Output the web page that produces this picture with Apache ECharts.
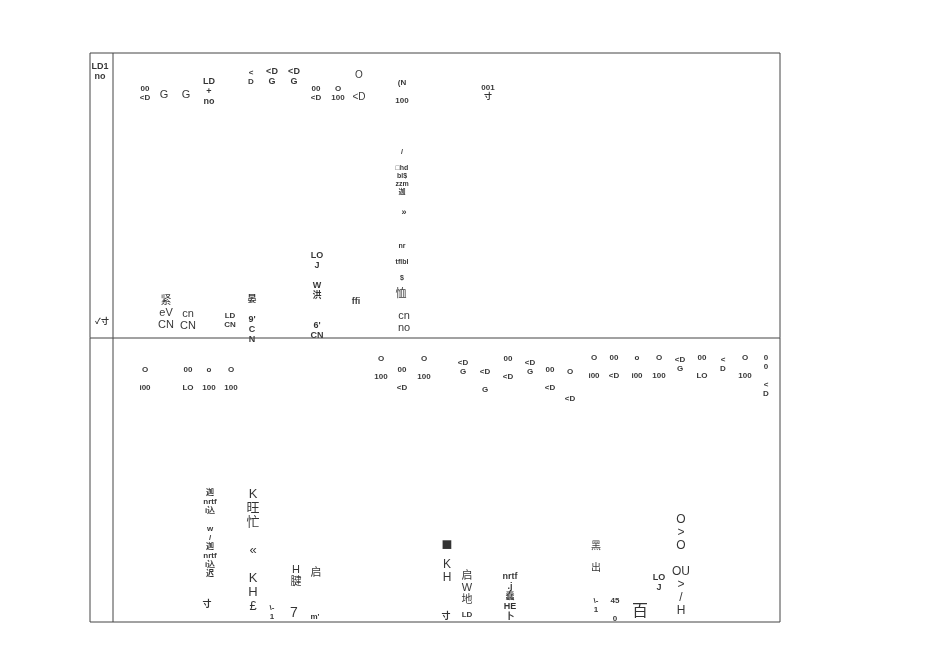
<!DOCTYPE html>
<html><head><meta charset="utf-8">
<script src="https://cdn.jsdelivr.net/npm/echarts@6/dist/echarts.min.js"></script>
<style>html,body{margin:0;background:#fff}#c{width:950px;height:672px}</style>
</head><body><div id="c"></div>
<script>
const texts = ["LD1\nno","00\n<D","G","G","LD\n+\nno","<\nD","<D\nG","<D\nG","00\n<D","O\n100","O\n\n<D","(N\n\n100","001\n寸",
"/\n\n□hd\nbl$\nzzm\n迦","»","nr\n\ntflbl\n\n$","恤","cn\nno","LO\nJ\n\nW\n洪\n\n\n6'\nCN","ffi","紧\neV\nCN","cn\nCN","LD\nCN","晏\n\n9'\nC\nN","✓寸",
"O\n\ni00","00\n\nLO","o\n\n100","O\n\n100","O\n\n100","00\n\n<D","O\n\n100","<D\nG","<D\n\nG","00\n\n<D","<D\nG","00\n\n<D","O\n\n\n<D","O\n\ni00","00\n\n<D","o\n\ni00","O\n\n100","<D\nG","00\n\nLO","<\nD","O\n\n100","0\n0\n\n<\nD",
"迦\nnrtf\ni込\n\nw\n/\n迦\nnrtf\ni込\n迟","寸","K\n旺\n忙\n\n«\n\nK\nH\n£","\\-\n1","H\n腱","7","启","m'","■","K\nH","寸","启\nW\n地","LD","nrtf\n.j\n蠢\nHE\n卜","黑\n\n出","\\-\n1","45\n\n0","百","LO\nJ","O\n>\nO\n\nOU\n>\n/\nH"];
const xs = [100,145,164,186,209,251,272,294,316,338,359,402,488,402,404,402,401,404,317,356,166,188,230,252,102,
145,188,209,231,381,402,424,463,485,508,530,550,570,594,614,637,659,680,702,723,745,766,
210,207,253,272,296,294,316,315,447,447,446,467,467,510,596,596,615,640,659,681];
const ys = [72,93,95,95,92,77,77,77,93,93,86,92,92,172,213,262,294,322,296,302,313,320,320,320,322,
379,379,379,379,368,379,368,367,381,368,367,379,385,367,367,367,367,364,367,364,367,376,
533,605,550,612,576,613,573,617,545,571,617,588,615,597,557,605,610,612,583,565];
const sizes = [9,8,11,11,9,8,9,9,8,8,10,8,8,7,9,7,11,11,9,9,11,11,8,9,8,
8,8,8,8,8,8,8,8,8,8,8,8,8,8,8,8,8,8,8,8,8,8,
8,9,13,8,11,14,11,8,18,12,9,11,8,9,10,8,8,16,9,12];
const frameX = [90,780,780,90,90,null,90,780,null,113,113];
const frameY = [53,53,622,622,53,null,338,338,null,53,622];

const chart = echarts.init(document.getElementById('c'));
chart.setOption({
  animation:false,
  grid:{left:0,right:0,top:0,bottom:0},
  xAxis:{type:'value',min:0,max:950,show:false},
  yAxis:{type:'value',min:0,max:672,inverse:true,show:false},
  series:[
    {type:'line',symbol:'none',connectNulls:false,lineStyle:{color:'#444',width:1},
     data:frameX.map((x,i)=>x===null?[null,null]:[x,frameY[i]])},
    {type:'scatter',symbolSize:0,
     data:texts.map((t,i)=>({value:[xs[i],ys[i]],label:{show:true,position:'inside',formatter:t,fontSize:sizes[i],lineHeight:sizes[i]+1,color:'#000',fontFamily:'Liberation Sans, Noto Sans CJK SC',fontWeight:sizes[i]<=9?'bold':'normal'}}))}
  ]
});
</script></body></html>
